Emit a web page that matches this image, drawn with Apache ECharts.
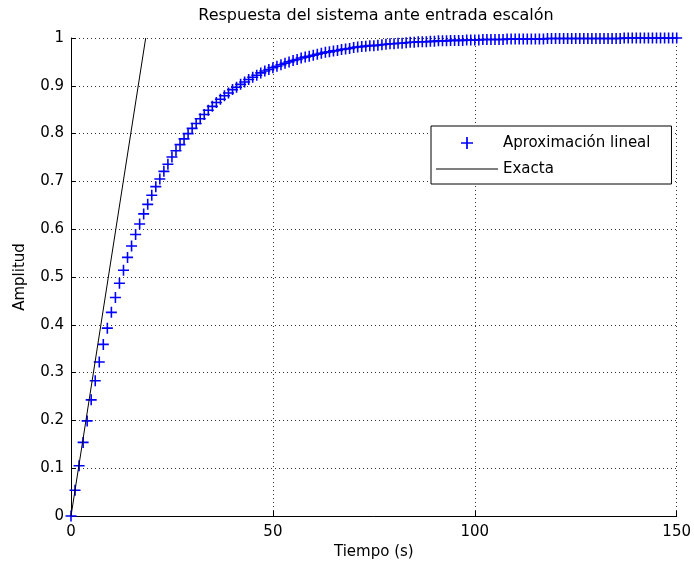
<!DOCTYPE html>
<html>
<head>
<meta charset="utf-8">
<script src="https://cdn.jsdelivr.net/npm/echarts@6/dist/echarts.min.js"></script>
<style>
  html, body { margin: 0; padding: 0; background: #fff; }
  #chart-container { width: 694px; height: 571px; }
</style>
</head>
<body>
<div id="chart-container"></div>
<script>
// step response samples, one every second
const sampleStep = 1;
const approxValues = [
    0, 0.054, 0.105, 0.154, 0.199, 0.243, 0.283, 0.322, 0.359, 0.393,
    0.426, 0.457, 0.487, 0.514, 0.541, 0.565, 0.589, 0.611, 0.632, 0.652,
    0.671, 0.689, 0.705, 0.721, 0.736, 0.751, 0.764, 0.777, 0.789, 0.800,
    0.811, 0.821, 0.831, 0.840, 0.849, 0.857, 0.865, 0.872, 0.879, 0.885,
    0.892, 0.897, 0.903, 0.908, 0.913, 0.918, 0.922, 0.927, 0.931, 0.934,
    0.938, 0.941, 0.944, 0.947, 0.950, 0.953, 0.955, 0.958, 0.960, 0.962,
    0.964, 0.966, 0.968, 0.970, 0.971, 0.973, 0.974, 0.976, 0.977, 0.978,
    0.980, 0.981, 0.982, 0.983, 0.984, 0.984, 0.985, 0.986, 0.987, 0.988,
    0.988, 0.989, 0.989, 0.990, 0.991, 0.991, 0.992, 0.992, 0.992, 0.993,
    0.993, 0.994, 0.994, 0.994, 0.995, 0.995, 0.995, 0.995, 0.996, 0.996,
    0.996, 0.996, 0.997, 0.997, 0.997, 0.997, 0.997, 0.997, 0.998, 0.998,
    0.998, 0.998, 0.998, 0.998, 0.998, 0.998, 0.998, 0.998, 0.999, 0.999,
    0.999, 0.999, 0.999, 0.999, 0.999, 0.999, 0.999, 0.999, 0.999, 0.999,
    0.999, 0.999, 0.999, 0.999, 0.999, 0.999, 0.999, 1, 1, 1,
    1, 1, 1, 1, 1, 1, 1, 1, 1, 1,
    1
];

// straight line ("Exacta")
const exactTimes = [0, 18.5];
const exactValues = [0, 1];

const xTicks = [0, 50, 100, 150];
const yTicks = [0, 0.1, 0.2, 0.3, 0.4, 0.5, 0.6, 0.7, 0.8, 0.9, 1];

const seriesNames = ['Aproximación lineal', 'Exacta'];

const approxData = approxValues.map((v, i) => [i * sampleStep, v]);
const exactData = exactTimes.map((t, i) => [t, exactValues[i]]);

const plusPath = 'path://M6,0 H8 V6 H14 V8 H8 V14 H6 V8 H0 V6 H6 Z';
const dashPath = 'path://M0,0 H62 V1 H0 Z';
const font = 'DejaVu Sans';

const chartDom = document.getElementById('chart-container');
const myChart = echarts.init(chartDom, null, {renderer: 'canvas'});

const gridLine = {show: true, lineStyle: {color: '#333', width: 1, type: [1, 3]}};

var option = {
    backgroundColor: '#fff',
    animation: false,
    title: {
        text: 'Respuesta del sistema ante entrada escalón',
        left: 376,
        top: 8,
        textAlign: 'center',
        padding: 0,
        textStyle: {fontFamily: font, fontSize: 16, fontWeight: 'normal', color: '#000'}
    },
    legend: {
        orient: 'vertical',
        left: 431,
        top: 126,
        padding: [9, 21, 7, 5],
        itemGap: 10,
        itemWidth: 62,
        itemHeight: 12,
        symbolKeepAspect: true,
        backgroundColor: '#fff',
        borderColor: '#000',
        borderWidth: 1,
        borderRadius: 0,
        data: [
            {name: seriesNames[0]},
            {name: seriesNames[1], icon: dashPath}
        ],
        textStyle: {fontFamily: font, fontSize: 15, color: '#000', lineHeight: 16}
    },
    grid: {
        left: 71,
        right: 13,
        top: 38,
        bottom: 55,
        containLabel: false
    },
    xAxis: {
        type: 'value',
        min: xTicks[0],
        max: xTicks[xTicks.length - 1],
        interval: xTicks[1] - xTicks[0],
        name: 'Tiempo (s)',
        nameLocation: 'middle',
        nameGap: 28,
        nameTextStyle: {fontFamily: font, fontSize: 15, color: '#000'},
        axisLine: {lineStyle: {color: '#000', width: 1}},
        axisTick: {inside: true, length: 5, lineStyle: {color: '#000'}},
        axisLabel: {margin: 9, fontFamily: font, fontSize: 15, color: '#000'},
        splitLine: gridLine
    },
    yAxis: {
        type: 'value',
        min: yTicks[0],
        max: yTicks[yTicks.length - 1],
        interval: 0.1,
        name: 'Amplitud',
        nameLocation: 'middle',
        nameGap: 43,
        nameTextStyle: {fontFamily: font, fontSize: 15, color: '#000'},
        axisLine: {lineStyle: {color: '#000', width: 1}},
        axisTick: {inside: true, length: 5, lineStyle: {color: '#000'}},
        axisLabel: {
            margin: 7, fontFamily: font, fontSize: 15, color: '#000',
            formatter: function (value) {
                return String(Math.round(value * 10) / 10);
            }
        },
        splitLine: gridLine
    },
    series: [
        {
            name: seriesNames[0],
            type: 'scatter',
            symbol: plusPath,
            symbolSize: 11,
            itemStyle: {color: '#0000ff', opacity: 1},
            data: approxData,
            z: 2
        },
        {
            name: seriesNames[1],
            type: 'line',
            symbol: 'none',
            lineStyle: {color: '#000', width: 1},
            itemStyle: {color: '#000'},
            data: exactData,
            z: 3
        }
    ]
};

option && myChart.setOption(option, true);
</script>
</body>
</html>
